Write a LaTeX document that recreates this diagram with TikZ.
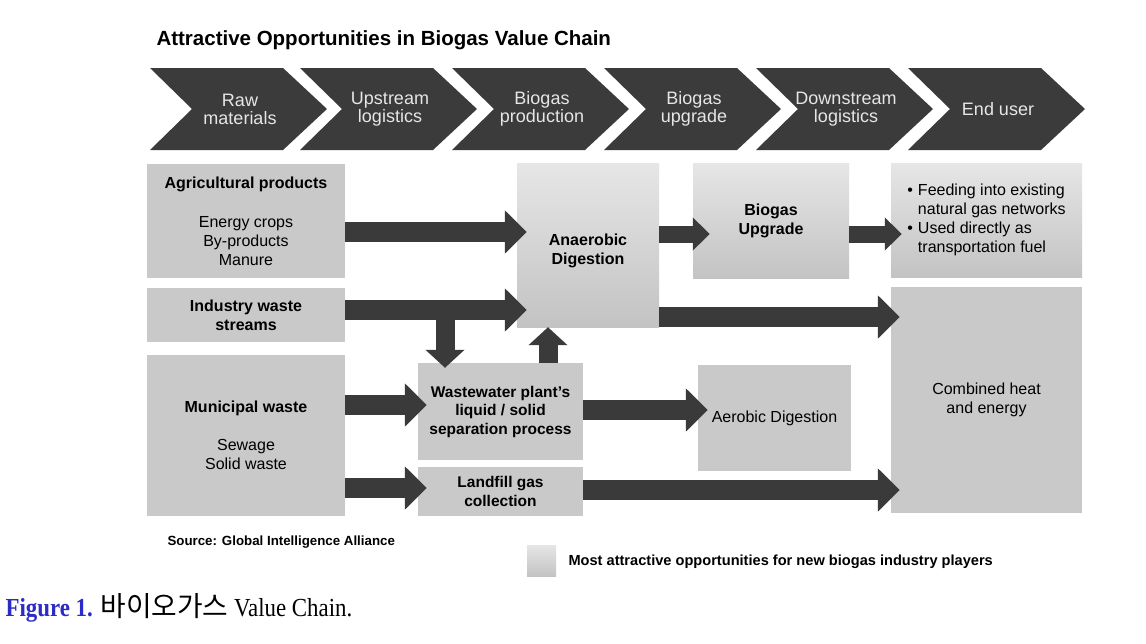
\documentclass[tikz,border=0pt]{standalone}
\usepackage{fontspec}
\usepackage{xcolor}
\setmainfont{Liberation Sans}
\newfontfamily\capfont{Liberation Serif}[FakeStretch=0.88]
\newfontfamily\kofont{Noto Sans CJK KR}[Scale=1.07]
\usetikzlibrary{arrows.meta}
\definecolor{chevgray}{HTML}{3B3B3B}
\definecolor{boxgray}{HTML}{C9C9C9}
\definecolor{hotgray}{HTML}{E6E6E6}
\definecolor{hotdark}{HTML}{C3C3C3}
\definecolor{arrgray}{HTML}{3A3A3A}
\definecolor{figblue}{HTML}{2B2BC8}

\begin{document}
\begin{tikzpicture}[x=1pt,y=-1pt,
	box/.style={fill=boxgray,inner sep=0pt,align=center,font=\fontsize{16}{19}\selectfont},
	hot/.style={box,top color=hotgray,bottom color=hotdark},
	bigarrow/.style={arrgray,line width=20pt,-{Triangle[length=22pt,width=42pt]}},
	smallarrow/.style={arrgray,line width=17pt,-{Triangle[length=17pt,width=32pt]}},
	vertarrow/.style={arrgray,line width=19pt,-{Triangle[length=18pt,width=38pt]}},
	chevlabel/.style={text=hotgray,align=center,font=\fontsize{18}{18}\selectfont}]
			\fill[white] (0,0) rectangle (1146,643);
			\useasboundingbox (0,0) rectangle (1146,643);
			\node[anchor=west,font=\bfseries\fontsize{20.5}{22}\selectfont] (title) at (153,40) {Attractive Opportunities in Biogas Value Chain};
			
			% value chain stages
			\foreach \x/\lbl [count=\i] in {150/{Raw\\materials},300/{Upstream\\logistics},452/{Biogas\\production},604/{Biogas\\upgrade},756/{Downstream\\logistics},908/{End user}}{
				\fill[chevgray] (\x,68) -- ++(133,0) -- ++(44,41) -- ++(-44,41) -- ++(-133,0) -- ++(42,-41) -- cycle;
				\node[chevlabel] (stage\i) at (\x+90,109) {\lbl};
			}
			
			% sources
			\node[box,minimum width=198,minimum height=114] (agri) at (246,221) {\textbf{Agricultural products}\\[20pt]Energy crops\\By-products\\Manure};
			\node[box,minimum width=198,minimum height=54] (indus) at (246,315) {\textbf{Industry waste}\\\textbf{streams}};
			\node[box,minimum width=198,minimum height=161] (muni) at (246,435.5) {\textbf{Municipal waste}\\[19pt]Sewage\\Solid waste};
			
			% processes
			\node[hot,minimum width=142,minimum height=164] (anaer) at (588,245) {};
			\node[align=center,font=\bfseries\fontsize{16}{19}\selectfont] (anaertext) at ([yshift=-6pt]anaer.center) {Anaerobic\\Digestion};
			\node[hot,minimum width=156,minimum height=115] (upgr) at (771,220.5) {\textbf{Biogas}\\\textbf{Upgrade}};
			\node[box,minimum width=165,minimum height=97,font=\fontsize{15.5}{18.5}\selectfont] (wwtp) at (500.5,411.5) {\textbf{Wastewater plant's}\\\textbf{liquid / solid}\\\textbf{separation process}};
			\node[box,minimum width=165,minimum height=49,font=\fontsize{15.5}{18.5}\selectfont] (landf) at (500.5,491.5) {\textbf{Landfill gas}\\\textbf{collection}};
			\node[box,minimum width=153,minimum height=106] (aerob) at (774.5,418) {Aerobic Digestion};
			
			% end use
			\node[hot,minimum width=191,minimum height=114] (enduse) at (986.5,220) {\begin{tabular}{@{}l@{\hspace{5pt}}l@{}}
					\textbullet & Feeding into existing\\
					& natural gas networks\\
					\textbullet & Used directly as\\
					& transportation fuel
				\end{tabular}};
			\node[box,minimum width=191,minimum height=226] (chp) at (986.5,400) {Combined heat\\and energy};
			
			% flows
			\draw[bigarrow,shorten >=-10pt] (agri.east |- 0,232) -- (anaer.west |- 0,232);
			\draw[bigarrow,shorten >=-10pt] (indus.east |- 0,310) -- (anaer.west |- 0,310);
			\coordinate (split) at (445,310);
			\draw[vertarrow,shorten >=-5pt] (split) -- (split |- wwtp.north);
			\draw[vertarrow] (wwtp.north -| 548,0) -- (anaer.south -| 548,0);
			\draw[bigarrow,shorten >=-9pt] (muni.east |- 0,405) -- (wwtp.west |- 0,405);
			\draw[bigarrow,shorten >=-9pt] (muni.east |- 0,488) -- (landf.west |- 0,488);
			\draw[bigarrow,shorten >=-10pt] (wwtp.east |- 0,410) -- (aerob.west |- 0,410);
			\draw[bigarrow,shorten >=-9pt] (landf.east |- 0,490) -- (chp.west |- 0,490);
			\draw[bigarrow,shorten >=-9pt] (anaer.east |- 0,317) -- (chp.west |- 0,317);
			\draw[smallarrow,shorten >=-17pt] (anaer.east |- 0,234) -- (upgr.west |- 0,234);
			\draw[smallarrow,shorten >=-11pt] (upgr.east |- 0,234) -- (enduse.west |- 0,234);
			
			% source and legend
			\node[anchor=west,font=\bfseries\fontsize{13.3}{15}\selectfont] (source) at (164,542) {Source: Global Intelligence Alliance};
			\node[hot,minimum width=29,minimum height=31] (key) at (541.5,560.5) {};
			\node[anchor=west,font=\bfseries\fontsize{14.6}{16}\selectfont] (keytext) at (565,562) {Most attractive opportunities for new biogas industry players};
			
			\node[anchor=west,font=\capfont\fontsize{26}{28}\selectfont] (caption) at (2,608) {\textcolor{figblue}{\bfseries Figure 1.} {\kofont 바이오가스} Value Chain.};
		\end{tikzpicture}
\end{document}
